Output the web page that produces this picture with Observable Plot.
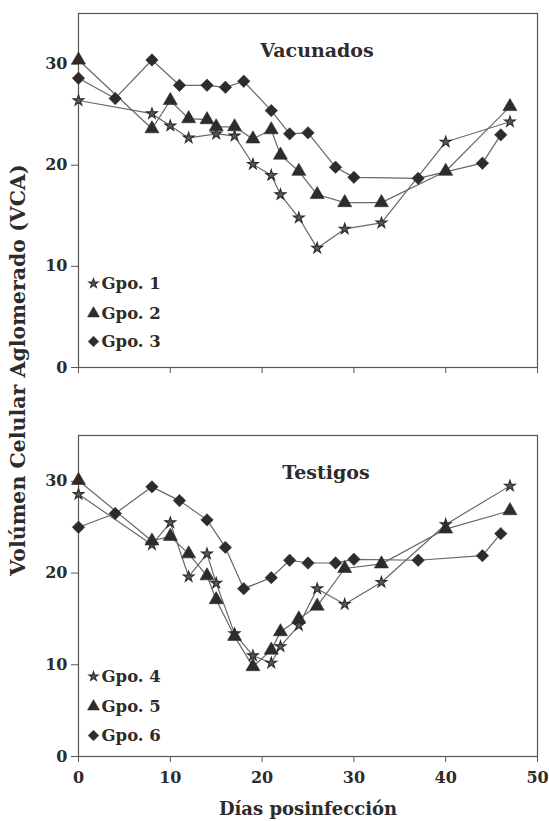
<!DOCTYPE html>
<html>
<head>
<meta charset="utf-8">
<script src="https://cdn.jsdelivr.net/npm/d3@7"></script>
<script src="https://cdn.jsdelivr.net/npm/@observablehq/plot@0.6"></script>
<style>
  html, body { margin: 0; padding: 0; background: #fff; }
  #root { position: relative; width: 549px; height: 821px; background: #fff; overflow: hidden; }
  #root svg { position: absolute; left: 0; }
  #ylab { position: absolute; left: 18px; top: 370px; transform: translate(-50%, -50%) rotate(-90deg);
          white-space: nowrap; font-family: "DejaVu Serif", serif; font-weight: bold; font-size: 20.5px; color: #2e2b29; }
</style>
</head>
<body>
<div id="root"><div id="ylab">Volúmen Celular Aglomerado (VCA)</div></div>
<script>
// ---- data ----
const panelTitles = ["Vacunados", "Testigos"];
const xTicks = [0, 10, 20, 30, 40, 50];
const yTicks = [0, 10, 20, 30];
const xLabel = "Días posinfección";

const groupNames = ["Gpo. 1", "Gpo. 2", "Gpo. 3", "Gpo. 4", "Gpo. 5", "Gpo. 6"];
const groupSymbols = ["star", "triangle", "diamond2", "star", "triangle", "diamond2"];

const g1Days = [0, 8, 10, 12, 15, 17, 19, 21, 22, 24, 26, 29, 33, 40, 47];
const g1VCA  = [26.4, 25.1, 23.9, 22.7, 23.1, 22.9, 20.1, 19.0, 17.1, 14.8, 11.8, 13.7, 14.3, 22.3, 24.3];
const g2Days = [0, 8, 10, 12, 14, 15, 17, 19, 21, 22, 24, 26, 29, 33, 40, 47];
const g2VCA  = [30.4, 23.6, 26.4, 24.6, 24.5, 23.8, 23.8, 22.6, 23.5, 21.0, 19.4, 17.1, 16.3, 16.3, 19.4, 25.8];
const g3Days = [0, 4, 8, 11, 14, 16, 18, 21, 23, 25, 28, 30, 37, 44, 46];
const g3VCA  = [28.6, 26.6, 30.4, 27.9, 27.9, 27.7, 28.3, 25.4, 23.1, 23.2, 19.8, 18.8, 18.7, 20.2, 23.0];

const g4Days = [0, 8, 10, 12, 14, 15, 17, 19, 21, 22, 24, 26, 29, 33, 40, 47];
const g4VCA  = [28.6, 23.1, 25.5, 19.6, 22.1, 18.9, 13.4, 11.0, 10.2, 12.0, 14.3, 18.3, 16.6, 19.0, 25.3, 29.5];
const g5Days = [0, 8, 10, 12, 14, 15, 17, 19, 21, 22, 24, 26, 29, 33, 40, 47];
const g5VCA  = [30.1, 23.5, 24.0, 22.1, 19.7, 17.1, 13.1, 9.8, 11.6, 13.6, 15.0, 16.4, 20.5, 21.0, 24.8, 26.8];
const g6Days = [0, 4, 8, 11, 14, 16, 18, 21, 23, 25, 28, 30, 37, 44, 46];
const g6VCA  = [25.0, 26.5, 29.4, 27.9, 25.8, 22.8, 18.3, 19.5, 21.4, 21.1, 21.1, 21.5, 21.4, 21.9, 24.3];

const allDays = [g1Days, g2Days, g3Days, g4Days, g5Days, g6Days];
const allVCA = [g1VCA, g2VCA, g3VCA, g4VCA, g5VCA, g6VCA];

// ---- build table ----
const rows = [];
allDays.forEach((days, gi) => days.forEach((d, i) => rows.push({
  group: groupNames[gi], symbol: groupSymbols[gi], panel: gi < 3 ? 0 : 1, day: d, vca: allVCA[gi][i]
})));

const INK = "#2e2b29";
const LINE = "#6a6764";
const font = "DejaVu Serif, serif";

function symR(s) { return s === "star" ? 3.4 : s === "triangle" ? 5.2 : 5.6; }
function symFill(s) { return s === "star" ? "#5a5652" : INK; }
function symSW(s) { return s === "star" ? 1.1 : 0.6; }

function makePanel(p, cfg) {
  const data = rows.filter(r => r.panel === p);
  const groups = groupNames.slice(p * 3, p * 3 + 3);
  const syms = groupSymbols.slice(p * 3, p * 3 + 3);
  const marks = [
    Plot.frame({stroke: "#555", strokeWidth: 1.2}),
    Plot.axisY({ticks: yTicks, label: null, tickSize: 7, tickPadding: 4, stroke: "#555",
      fontSize: 16, fontWeight: "bold", fill: INK}),
    Plot.axisX({ticks: xTicks, label: null, tickSize: 6, tickPadding: 9,
      tickFormat: cfg.showX ? d => String(d) : () => "", stroke: "#555",
      fontSize: 16, fontWeight: "bold", fill: INK}),
    Plot.line(data, {x: "day", y: "vca", z: "group", stroke: LINE, strokeWidth: 1.2}),
  ];
  for (let gi = 0; gi < 3; gi++) {
    const s = syms[gi];
    marks.push(Plot.dot(data.filter(d => d.group === groups[gi]), {
      x: "day", y: "vca", symbol: () => s, r: symR(s), fill: symFill(s), stroke: INK, strokeWidth: symSW(s)
    }));
  }
  marks.push(Plot.text([panelTitles[p]], {frameAnchor: "top", dx: cfg.titleDx, dy: 37, text: d => d,
    fontSize: 19, fontWeight: "bold", fill: INK, lineAnchor: "middle"}));
  if (cfg.showX) {
    marks.push(Plot.text([xLabel], {frameAnchor: "bottom", dx: 0, dy: 53, text: d => d,
      fontSize: 18, fontWeight: "bold", fill: INK, lineAnchor: "middle"}));
  }
  groups.forEach((g, i) => {
    const s = syms[i];
    marks.push(Plot.dot([g], {frameAnchor: "bottom-left", dx: 15, dy: cfg.legendDy[i], symbol: () => s,
      r: symR(s) * 0.85, fill: symFill(s), stroke: INK, strokeWidth: symSW(s)}));
    marks.push(Plot.text([g], {frameAnchor: "bottom-left", dx: 23, dy: cfg.legendDy[i], text: d => d,
      textAnchor: "start", lineAnchor: "middle", fontSize: 16.5, fontWeight: "bold", fill: INK}));
  });
  const svg = Plot.plot({
    width: 549, height: cfg.height,
    marginLeft: 78, marginRight: 12, marginTop: cfg.mt, marginBottom: cfg.mb,
    x: {domain: [0, 50]}, y: {domain: [0, 35]},
    style: {fontFamily: font, fontSize: "16px", fontWeight: "bold", color: INK, background: "transparent", overflow: "visible"},
    marks
  });
  svg.style.top = cfg.top + "px";
  return svg;
}

const root = document.getElementById("root");
root.appendChild(makePanel(0, {top: 0, height: 390, mt: 13, mb: 23, showX: false, titleDx: 9, legendDy: [-84, -54, -26]}));
root.appendChild(makePanel(1, {top: 390, height: 431, mt: 45, mb: 65, showX: true, titleDx: 18, legendDy: [-80, -50, -21]}));
</script>
</body>
</html>
